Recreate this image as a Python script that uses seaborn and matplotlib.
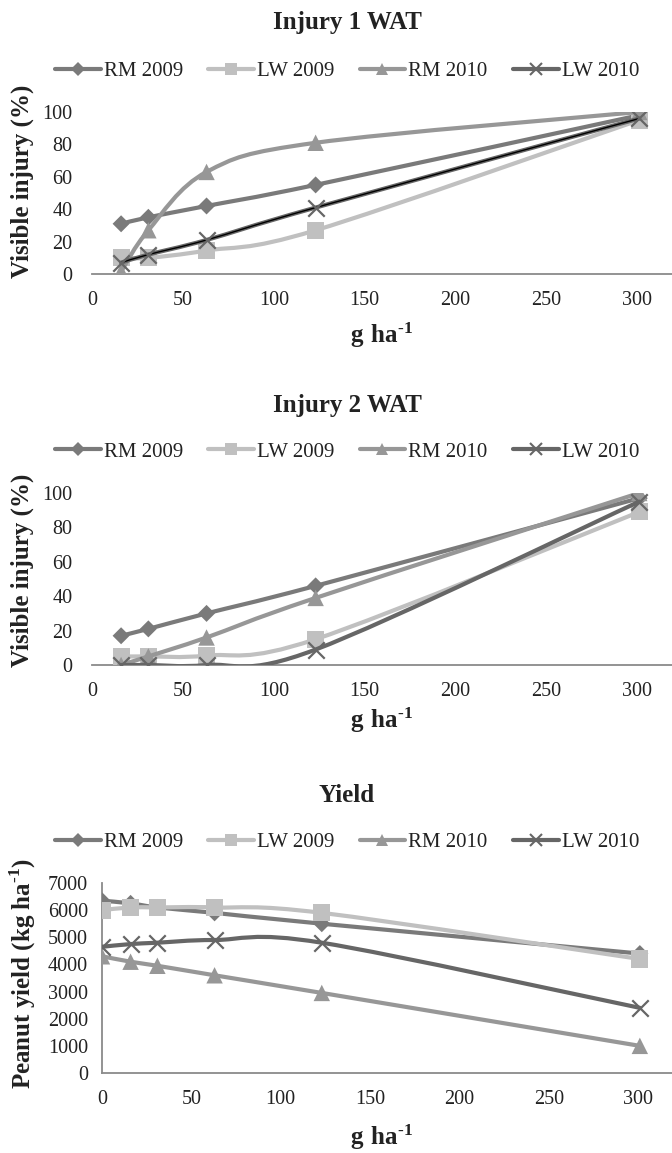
import numpy as np
import pandas as pd
import matplotlib
matplotlib.use("Agg")
import matplotlib.pyplot as plt
from matplotlib.path import Path
from matplotlib.patches import PathPatch
from matplotlib.lines import Line2D
import seaborn as sns

# doses (g ha-1)
dose = [16, 31, 63, 123, 301]
dose_yield = [0, 16, 31, 63, 123, 301]

series_names = ["RM 2009", "LW 2009", "RM 2010", "LW 2010"]

# injury 1 WAT (%)
inj1_rm2009 = [31, 35, 42, 55, 98]
inj1_lw2009 = [10, 10, 14.5, 27, 95]
inj1_rm2010 = [1.5, 27, 63, 81, 100]
inj1_lw2010 = [7, 12, 21, 41, 96]

# injury 2 WAT (%)
inj2_rm2009 = [17, 21, 30, 46, 97]
inj2_lw2009 = [5, 5, 5.5, 15, 89]
inj2_rm2010 = [0, 5, 16, 39, 100]
inj2_lw2010 = [0, 0, 0, 9, 95]

# peanut yield (kg ha-1)
yld_rm2009 = [6350, 6250, 6100, 5900, 5500, 4400]
yld_lw2009 = [6000, 6100, 6100, 6100, 5900, 4200]
yld_rm2010 = [4300, 4100, 3950, 3600, 2950, 1000]
yld_lw2010 = [4650, 4750, 4800, 4900, 4800, 2400]

colors = ["#7a7a7a", "#c0c0c0", "#979797", "#666666"]
markers = ["D", "s", "^", "x"]
msizes = [75, 150, 140, 140]

sns.set_theme(style="white")
plt.rcParams["font.family"] = ["Liberation Serif", "DejaVu Serif"]
plt.rcParams["mathtext.fontset"] = "custom"
plt.rcParams["mathtext.rm"] = "Liberation Serif"
plt.rcParams["mathtext.bf"] = "Liberation Serif:bold"

W, H = 672, 1153
fig = plt.figure(figsize=(W / 100, H / 100), dpi=100)


def smooth(ax, x, y, color, lw, z):
    # excel style smoothed line (bezier through the points)
    p = np.column_stack([x, y]).astype(float)
    n = len(p)
    verts = [p[0]]
    codes = [Path.MOVETO]
    for i in range(n - 1):
        p0 = p[i - 1] if i > 0 else p[i]
        p3 = p[i + 2] if i + 2 < n else p[i + 1]
        verts += [p[i] + (p[i + 1] - p0) / 6, p[i + 1] - (p3 - p[i]) / 6, p[i + 1]]
        codes += [Path.CURVE4] * 3
    ax.add_patch(PathPatch(Path(verts, codes), facecolor="none", edgecolor=color,
                           lw=lw, zorder=z, capstyle="round", joinstyle="round"))


def panel(rect, xs, data, ylim, yticks, title, ylabel, y_title, y_leg, y_xlab,
          ylab_x, ylab_y, left_spine, ypad, black_last=False):
    ax = fig.add_axes(rect)
    for k, (name, ys) in enumerate(zip(series_names, data)):
        smooth(ax, xs, ys, colors[k], 3.0, 2 + k)
        if black_last and k == 3:
            smooth(ax, xs, ys, "black", 1.0, 2.5 + k)
        df = pd.DataFrame({"x": xs, "y": ys})
        kw = dict(linewidth=1.6) if markers[k] == "x" else dict(edgecolor="none")
        sns.scatterplot(data=df, x="x", y="y", marker=markers[k], s=msizes[k],
                        color=colors[k], ax=ax, zorder=3 + k, **kw)
    ax.set_xlim(0, 319)
    ax.set_ylim(*ylim)
    ax.set_xticks(np.arange(0, 301, 50))
    ax.set_yticks(yticks)
    ax.set_xlabel("")
    ax.set_ylabel("")
    for s in ["top", "right"]:
        ax.spines[s].set_visible(False)
    ax.spines["left"].set_visible(left_spine)
    for s in ["left", "bottom"]:
        ax.spines[s].set_color("#8a8a8a")
        ax.spines[s].set_linewidth(1.3)
    ax.tick_params(axis="both", direction="out", length=5, width=1.1,
                   color="#8a8a8a", labelsize=14.5, labelcolor="#222222")
    ax.tick_params(axis="x", pad=7)
    ax.tick_params(axis="y", pad=ypad)
    ax.patch.set_alpha(0)

    fig.text(347 / W, 1 - y_title / H, title, ha="center", va="center",
             fontsize=18, fontweight="bold", color="#222222")
    fig.text(ylab_x / W, 1 - ylab_y / H, ylabel, rotation=90, ha="center",
             va="center", fontsize=18, fontweight="bold", color="#222222")
    fig.text(381 / W, 1 - y_xlab / H, "$\\mathbf{g\\ ha^{\u20101}}$", ha="center",
             va="center", fontsize=18, color="#222222")
    handles = [Line2D([0], [0], color=colors[k], lw=3, marker=markers[k],
                      markersize=9 if markers[k] != "D" else 7,
                      markeredgewidth=1.5 if markers[k] == "x" else 0,
                      markeredgecolor=colors[k])
               for k in range(4)]
    fig.legend(handles, series_names, loc="center", ncol=4,
               bbox_to_anchor=(347 / W, 1 - y_leg / H), frameon=False,
               fontsize=15, handlelength=2.2, handletextpad=0.15,
               columnspacing=1.2, labelcolor="#222222")
    return ax


panel([92 / W, 1 - 274 / H, 1 - 92 / W, 162 / H], dose,
      [inj1_rm2009, inj1_lw2009, inj1_rm2010, inj1_lw2010],
      (0, 100), np.arange(0, 101, 20), "Injury 1 WAT", "Visible injury (%)",
      22, 71, 335, 22, 181, False, 9, black_last=True)

panel([92 / W, 1 - 665 / H, 1 - 92 / W, 172 / H], dose,
      [inj2_rm2009, inj2_lw2009, inj2_rm2010, inj2_lw2010],
      (0, 100), np.arange(0, 101, 20), "Injury 2 WAT", "Visible injury (%)",
      405, 452, 720, 22, 570, False, 9)

panel([102 / W, 1 - 1073 / H, 1 - 102 / W, 190 / H], dose_yield,
      [yld_rm2009, yld_lw2009, yld_rm2010, yld_lw2010],
      (0, 7000), np.arange(0, 7001, 1000), "Yield",
      "Peanut yield (kg ha$^{\\mathbf{\u20101}}$)",
      795, 842, 1137, 23, 973, True, 5)

fig.savefig("out.png", dpi=100)
